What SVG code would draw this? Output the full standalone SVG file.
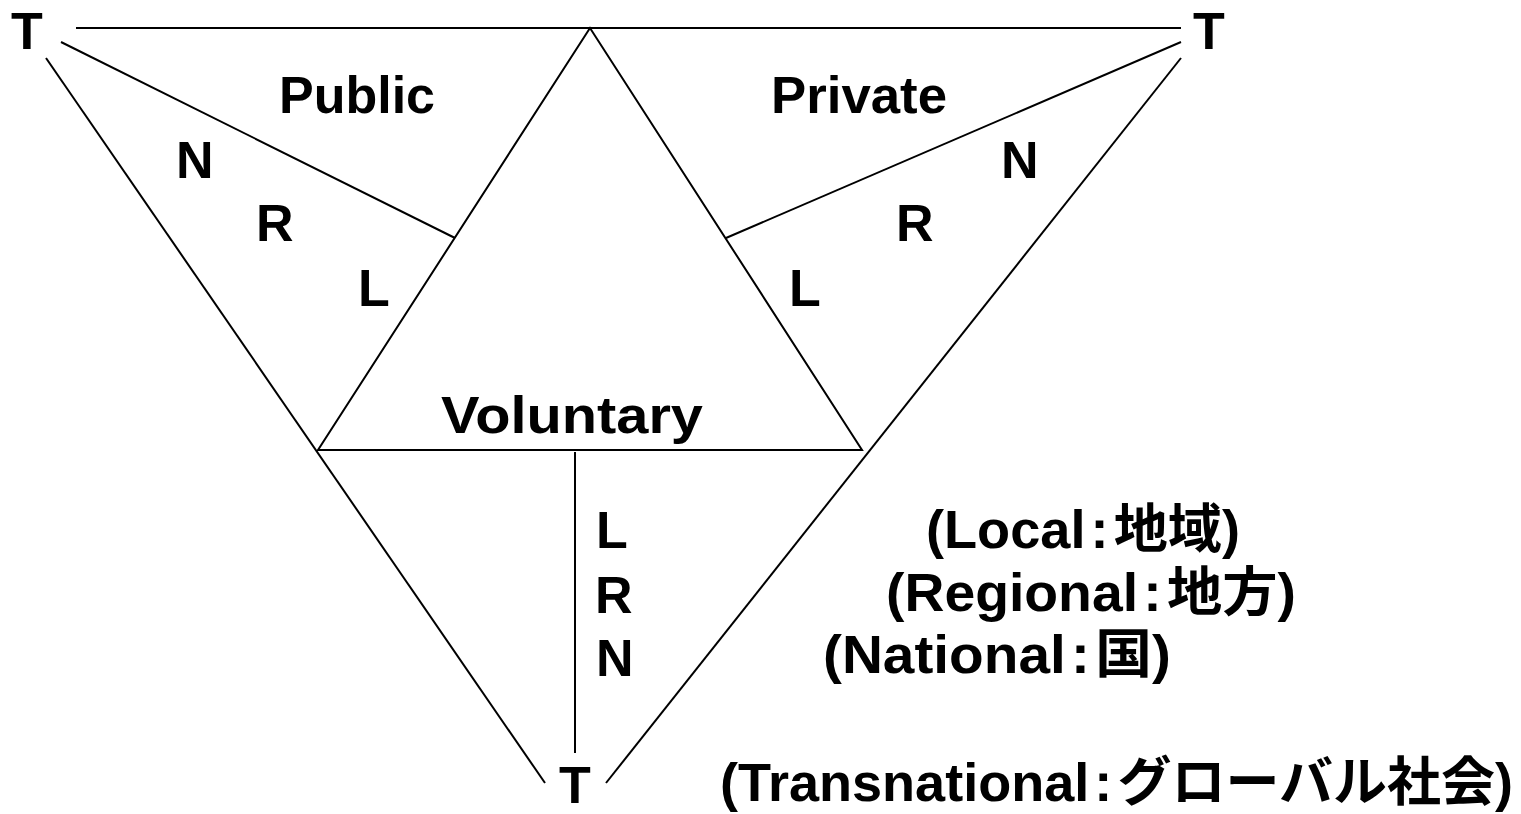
<svg xmlns="http://www.w3.org/2000/svg" width="1521" height="814" viewBox="0 0 1521 814">
<style>
  .ln { stroke: #000; stroke-width: 2; fill: none; }
  .t { font-family: "Liberation Sans", "Noto Sans CJK JP", sans-serif; font-weight: bold; font-size: 52px; fill: #000; }
  .lg { font-size: 53px; }
</style>
<rect width="1521" height="814" fill="#fff"/>
<g id="connectors">
  <line class="ln" x1="76" y1="28" x2="1181" y2="28"/>
  <line class="ln" x1="61" y1="42" x2="455" y2="238"/>
  <line class="ln" x1="46" y1="58" x2="545" y2="783"/>
  <line class="ln" x1="1181" y1="42" x2="726" y2="238"/>
  <line class="ln" x1="1181" y1="58" x2="606" y2="783"/>
  <line class="ln" x1="575" y1="452" x2="575" y2="753"/>
</g>
<g id="voluntary-triangle">
  <polygon class="ln" points="590,28 318,450 862,450"/>
  <text class="t" x="441" y="433" textLength="262" lengthAdjust="spacingAndGlyphs">Voluntary</text>
</g>
<g id="public">
  <text class="t" x="279" y="113" textLength="156" lengthAdjust="spacingAndGlyphs">Public</text>
  <text class="t" x="176" y="178">N</text>
  <text class="t" x="256" y="241">R</text>
  <text class="t" x="358" y="306">L</text>
</g>
<g id="private">
  <text class="t" x="771" y="113" textLength="176" lengthAdjust="spacingAndGlyphs">Private</text>
  <text class="t" x="1001" y="178">N</text>
  <text class="t" x="896" y="241">R</text>
  <text class="t" x="789" y="306">L</text>
</g>
<g id="t-top-left"><text class="t" x="11" y="49">T</text></g>
<g id="t-top-right"><text class="t" x="1193" y="49">T</text></g>
<g id="t-bottom"><text class="t" x="559" y="803">T</text></g>
<g id="levels">
  <text class="t" x="596" y="548">L</text>
  <text class="t" x="595" y="613">R</text>
  <text class="t" x="596" y="676">N</text>
</g>
<g id="legend">
  <text class="t lg" x="926" y="548" textLength="314" lengthAdjust="spacingAndGlyphs">(Local<tspan dx="5">:</tspan><tspan dx="5">地域)</tspan></text>
  <text class="t lg" x="886" y="611" textLength="410" lengthAdjust="spacingAndGlyphs">(Regional<tspan dx="5">:</tspan><tspan dx="5">地方)</tspan></text>
  <text class="t lg" x="823" y="673" textLength="348" lengthAdjust="spacingAndGlyphs">(National<tspan dx="5">:</tspan><tspan dx="5">国)</tspan></text>
  <text class="t lg" x="720" y="801" textLength="793" lengthAdjust="spacingAndGlyphs">(Transnational<tspan dx="5">:</tspan><tspan dx="5">グローバル社会)</tspan></text>
</g>
</svg>
